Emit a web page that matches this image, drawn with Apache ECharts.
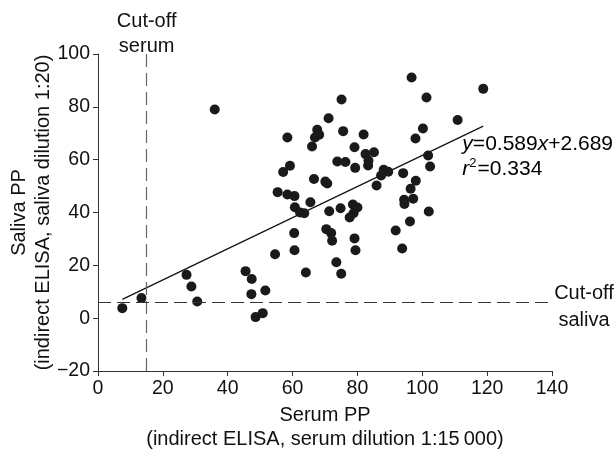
<!DOCTYPE html>
<html>
<head>
<meta charset="utf-8">
<script src="https://cdn.jsdelivr.net/npm/echarts@6/dist/echarts.min.js"></script>
<style>
html,body{margin:0;padding:0;background:#fff;}
#chart{width:614px;height:450px;}
</style>
</head>
<body>
<div id="chart"></div>
<script>
// Serum PP (x) and Saliva PP (y) values
var serumPP = [7.5, 13.4, 27.3, 28.8, 30.6, 36.0, 45.5, 47.4, 47.3, 48.6,
  50.8, 51.6, 54.6, 55.4, 57.1, 58.4, 58.4, 59.2, 60.6, 60.7,
  60.5, 60.6, 62.3, 63.6, 64.1, 65.5, 66.0, 66.6, 66.9, 67.6,
  68.2, 70.1, 70.7, 71.1, 71.3, 70.4, 71.9, 72.2, 73.5, 73.8,
  74.8, 75.0, 75.1, 75.6, 76.3, 77.6, 78.6, 78.8, 79.1, 79.3,
  79.1, 79.4, 80.0, 81.9, 82.5, 83.4, 83.3, 85.1, 85.9, 87.3,
  88.1, 89.5, 91.8, 93.8, 94.1, 94.4, 94.5, 96.2, 96.4, 96.7,
  97.2, 97.9, 98.0, 100.2, 101.3, 101.8, 102.0, 102.4, 110.9, 118.8];
var salivaPP = [3.8, 7.6, 16.4, 12.0, 6.3, 79.0, 17.8, 14.8, 9.1, 0.4,
  1.9, 10.5, 24.2, 47.7, 55.3, 68.4, 46.8, 57.7, 46.2, 42.0,
  32.2, 25.7, 40.0, 39.7, 17.3, 43.9, 65.0, 52.7, 68.4, 71.3,
  69.4, 51.7, 51.0, 75.7, 40.5, 33.7, 32.2, 29.3, 21.2, 59.3,
  41.6, 16.8, 82.8, 70.8, 59.1, 38.1, 43.0, 39.7, 64.7, 56.9,
  30.2, 25.7, 41.9, 69.5, 62.1, 59.7, 57.8, 62.8, 50.2, 54.0,
  56.2, 55.4, 33.2, 26.4, 54.9, 44.8, 43.2, 36.6, 49.0, 91.1,
  45.2, 68.0, 52.0, 71.8, 83.5, 61.6, 40.4, 57.4, 75.0, 86.8];
// Regression line endpoints
var fitX = [7.5, 118.8];
var fitY = [7.1, 72.7];
// Cut-off values
var cutoffSerum = 15;
var cutoffSaliva = 6;
// Axis ticks
var xTicks = [0, 20, 40, 60, 80, 100, 120, 140];
var yTicks = [-20, 0, 20, 40, 60, 80, 100];

var FONT = "'Liberation Sans', Arial, Helvetica, sans-serif";
var FS = 19.5;
var FN = 20;

var chart = echarts.init(document.getElementById('chart'), null, {renderer: 'canvas'});
var points = serumPP.map(function (v, i) { return [v, salivaPP[i]]; });
var fitLine = fitX.map(function (v, i) { return [v, fitY[i]]; });
function minus(v) { return String(v).replace('-', '\u2212'); }

var option = {
  animation: false,
  backgroundColor: '#ffffff',
  textStyle: {fontFamily: FONT},
  grid: {left: 98, right: 62, top: 54, bottom: 79, containLabel: false, outerBoundsMode: 'none'},
  xAxis: {
    type: 'value',
    min: xTicks[0], max: xTicks[xTicks.length - 1], interval: 20,
    name: 'Serum PP\n(indirect ELISA, serum dilution 1:15\u2009000)',
    nameLocation: 'middle', nameGap: 32, nameMoveOverlap: false,
    nameTextStyle: {fontFamily: FONT, fontSize: FN, color: '#111', lineHeight: 24},
    axisLine: {onZero: false, lineStyle: {color: '#333', width: 1}},
    axisTick: {show: true, length: 5, lineStyle: {color: '#333'}},
    axisLabel: {fontFamily: FONT, fontSize: FS, color: '#111', margin: 8},
    splitLine: {show: false}
  },
  yAxis: {
    type: 'value',
    min: yTicks[0], max: yTicks[yTicks.length - 1], interval: 20,
    name: 'Saliva PP\n(indirect ELISA, saliva dilution 1:20)',
    nameLocation: 'middle', nameGap: 43, nameRotate: 90, nameMoveOverlap: false,
    nameTextStyle: {fontFamily: FONT, fontSize: FN, color: '#111', lineHeight: 24},
    axisLine: {show: true, onZero: false, lineStyle: {color: '#333', width: 1}},
    axisTick: {show: true, length: 5, lineStyle: {color: '#333'}},
    axisLabel: {fontFamily: FONT, fontSize: FS, color: '#111', margin: 8, formatter: minus},
    splitLine: {show: false}
  },
  series: [
    {
      type: 'scatter',
      data: points,
      symbol: 'circle',
      symbolSize: 10,
      itemStyle: {color: '#1a1a1a', opacity: 1},
      z: 3,
      markLine: {
        silent: true,
        symbol: ['none', 'none'],
        animation: false,
        data: [
          {
            xAxis: cutoffSerum,
            lineStyle: {color: '#666', width: 1.2, type: [13, 6]},
            label: {
              show: true, position: 'end', distance: -5,
              formatter: 'Cut-off\nserum',
              fontFamily: FONT, fontSize: FN, color: '#111', lineHeight: 25
            }
          },
          {
            yAxis: cutoffSaliva,
            lineStyle: {color: '#333', width: 1.2, type: [13, 6]},
            label: {
              show: true, position: 'end', distance: 2,
              padding: [9, 0, 0, 0],
              formatter: '{a|Cut-off}\n{a|saliva}',
              rich: {a: {fontFamily: FONT, fontSize: FN, color: '#111', width: 60, align: 'center', lineHeight: 27}}
            }
          }
        ]
      }
    },
    {
      type: 'line',
      data: fitLine,
      showSymbol: false,
      symbol: 'none',
      lineStyle: {color: '#111', width: 1.2},
      silent: true,
      z: 2
    }
  ],
  graphic: [
    {
      type: 'text',
      right: 1,
      top: 134,
      style: {
        text: '{i|y}{n|=0.589}{i|x}{n|+2.689}\n{i|r}{s|2}{n|=0.334}',
        rich: {
          i: {fontFamily: FONT, fontSize: 21, fontStyle: 'italic', color: '#111', lineHeight: 25},
          n: {fontFamily: FONT, fontSize: 21, color: '#111', lineHeight: 25},
          s: {fontFamily: FONT, fontSize: 13, color: '#111', lineHeight: 25, padding: [0, 1, 12, 0]}
        }
      }
    }
  ]
};
chart.setOption(option);
</script>
</body>
</html>
